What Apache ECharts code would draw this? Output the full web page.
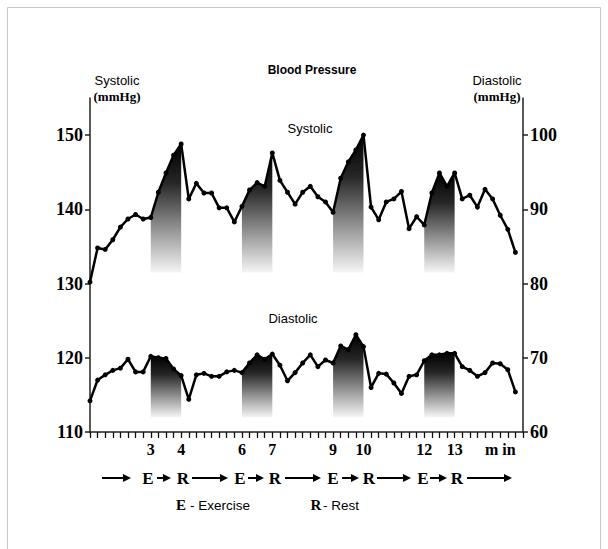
<!DOCTYPE html>
<html><head><meta charset="utf-8">
<script src="https://cdn.jsdelivr.net/npm/echarts@6/dist/echarts.min.js"></script>
<style>html,body{margin:0;padding:0;background:#fff}#c{width:608px;height:549px}</style>
</head><body><div id="c"></div>
<script>
// ---- data ----
const axisStartMinute = 1;      // first sample is at 1 min
const stepsPerMinute = 4;       // one sample every 15 s
const systolic = [130.2,134.8,134.6,135.9,137.6,138.7,139.3,138.7,138.9,142.3,144.9,147.3,148.8,141.4,143.5,142.2,142.2,140.2,140.2,138.3,140.4,142.6,143.6,143.1,147.6,143.9,142.3,140.7,142.3,143.1,141.7,141.0,139.6,144.2,146.4,148.0,150.0,140.3,138.6,141.0,141.4,142.4,137.4,139.0,137.9,142.2,144.9,143.1,144.9,141.4,141.9,140.3,142.7,141.4,139.2,137.3,134.2];
const diastolic = [64.2,67.0,67.7,68.3,68.6,69.8,68.1,68.1,70.2,70.0,69.9,68.5,67.6,64.4,67.7,67.9,67.5,67.5,68.1,68.3,68.0,69.3,70.4,69.8,70.5,69.0,66.9,68.0,69.3,70.4,68.8,69.7,69.3,71.6,71.1,73.1,71.5,66.0,67.9,67.8,66.6,65.2,67.5,67.7,69.6,70.4,70.4,70.6,70.6,68.8,68.3,67.5,68.0,69.3,69.2,68.4,65.4];
const minuteTickLabels = [3,4,6,7,9,10,12,13];
const unitLabel = 'm in';
const exercisePeriods = [[3,4],[6,7],[9,10],[12,13]];
const leftTicks = [110,120,130,140,150];
const rightTicks = [60,70,80,90,100];

// ---- build ----
const N = 58;
const unitLabelIndex = 54;
const categories = [];
for (let i = 0; i < N; i++) {
  const m = axisStartMinute + i / stepsPerMinute;
  categories.push(Number.isInteger(m) && minuteTickLabels.includes(m) ? String(m) : '');
}
categories[unitLabelIndex] = unitLabel;

const serif = "'Liberation Serif','Times New Roman',serif";
const sans = "'Liberation Sans',Arial,sans-serif";

const grad = {type:'linear', x:0, y:0, x2:0, y2:1, colorStops:[
  {offset:0, color:'rgba(0,0,0,1)'},
  {offset:0.3, color:'rgba(0,0,0,0.85)'},
  {offset:0.7, color:'rgba(0,0,0,0.38)'},
  {offset:1, color:'rgba(0,0,0,0.04)'}]};

function shadeSeries(values, yAxisIndex, origin) {
  return exercisePeriods.map(([a, b]) => {
    const s = (a - axisStartMinute) * stepsPerMinute, e = (b - axisStartMinute) * stepsPerMinute;
    return {
      type:'line', yAxisIndex, silent:true, z:1, showSymbol:false, symbol:'none',
      lineStyle:{width:0}, connectNulls:false,
      areaStyle:{origin, color:grad, opacity:1},
      data: values.map((v, i) => (i >= s && i <= e) ? v : '-')
    };
  });
}

function lineSeries(values, yAxisIndex) {
  return {
    type:'line', yAxisIndex, z:3, symbol:'circle', symbolSize:5, showAllSymbol:true,
    itemStyle:{color:'#000'}, lineStyle:{color:'#000', width:2.5},
    data: values
  };
}

function arrow(x1, x2, y) {
  return [
    {type:'line', shape:{x1, y1:y, x2:x2 - 5, y2:y}, style:{stroke:'#000', lineWidth:2}},
    {type:'polygon', shape:{points:[[x2 - 8, y - 4], [x2, y], [x2 - 8, y + 4]]}, style:{fill:'#000'}}
  ];
}
function txt(text, x, y, font, align) {
  return {type:'text', style:{text, x, y, font, fill:'#000', textAlign:align || 'center', textVerticalAlign:'middle'}};
}

const arrowY = 478;
const graphics = [
  {type:'rect', shape:{x:7.5, y:7.5, width:593, height:570}, style:{fill:'none', stroke:'#c8c8c8', lineWidth:1}},
  txt('Blood Pressure', 312, 70, 'bold 12px ' + sans),
  txt('Systolic', 117, 80, '13px ' + sans),
  txt('(mmHg)', 117, 96, 'bold 13px ' + serif),
  txt('Diastolic', 497, 80, '13px ' + sans),
  txt('(mmHg)', 497, 96, 'bold 13px ' + serif),
  txt('Systolic', 310, 128, '13px ' + sans),
  txt('Diastolic', 293, 318, '13px ' + sans),
  ...arrow(102, 131, arrowY),
  txt('E', 148, arrowY, 'bold 17px ' + serif),
  ...arrow(157, 171, arrowY),
  txt('R', 183, arrowY, 'bold 17px ' + serif),
  ...arrow(192, 228, arrowY),
  txt('E', 240, arrowY, 'bold 17px ' + serif),
  ...arrow(248, 264, arrowY),
  txt('R', 275, arrowY, 'bold 17px ' + serif),
  ...arrow(285, 321, arrowY),
  txt('E', 333, arrowY, 'bold 17px ' + serif),
  ...arrow(342, 359, arrowY),
  txt('R', 369, arrowY, 'bold 17px ' + serif),
  ...arrow(377, 411, arrowY),
  txt('E', 423, arrowY, 'bold 17px ' + serif),
  ...arrow(430, 447, arrowY),
  txt('R', 457, arrowY, 'bold 17px ' + serif),
  ...arrow(467, 512, arrowY),
  txt('E', 181, 505, 'bold 15px ' + serif),
  txt('- Exercise', 190, 505, '13.5px ' + sans, 'left'),
  txt('R', 316, 505, 'bold 15px ' + serif),
  txt('- Rest', 323, 505, '13.5px ' + sans, 'left')
];

const axisLineStyle = {color:'#222', width:1.5};

const option = {
  animation:false,
  backgroundColor:'#fff',
  grid:{left:90, right:85, top:98, bottom:117, containLabel:false},
  xAxis:{
    type:'category', data:categories, boundaryGap:false,
    axisLine:{show:true, lineStyle:axisLineStyle, onZero:false},
    axisTick:{show:true, interval:0, length:6, lineStyle:{color:'#111', width:1.3}},
    axisLabel:{interval:0, margin:9, color:'#000', fontFamily:serif, fontWeight:'bold', fontSize:16},
    splitLine:{show:false}
  },
  yAxis:[
    {type:'value', position:'left', min:110, max:155, interval:10,
     axisLine:{show:true, lineStyle:axisLineStyle},
     axisTick:{show:true, length:5, customValues:leftTicks, lineStyle:{color:'#222', width:1.5}},
     axisLabel:{customValues:leftTicks, margin:7, color:'#000', fontFamily:serif, fontWeight:'bold', fontSize:18},
     splitLine:{show:false}},
    {type:'value', position:'right', min:60, max:105, interval:10,
     axisLine:{show:true, lineStyle:axisLineStyle},
     axisTick:{show:true, length:5, customValues:rightTicks, lineStyle:{color:'#222', width:1.5}},
     axisLabel:{customValues:rightTicks, margin:7, color:'#000', fontFamily:serif, fontWeight:'bold', fontSize:18},
     splitLine:{show:false}}
  ],
  series:[
    ...shadeSeries(systolic, 0, 131.5),
    ...shadeSeries(diastolic, 1, 62),
    lineSeries(systolic, 0),
    lineSeries(diastolic, 1)
  ],
  graphic:graphics
};

const chart = echarts.init(document.getElementById('c'), null, {renderer:'svg'});
chart.setOption(option);
</script>
</body></html>
